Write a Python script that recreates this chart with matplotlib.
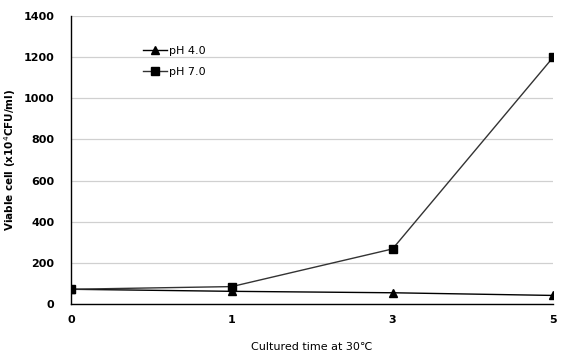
import matplotlib.pyplot as plt
import numpy as np

# cultured time (days), plotted as equally spaced categories
times = ['0', '1', '3', '5']
ph4 = [72, 62, 55, 42]
ph7 = [72, 85, 268, 1200]

fig = plt.figure(figsize=(5.64, 3.54), dpi=100)
ax = fig.add_axes([0.126, 0.141, 0.855, 0.814])

xpos = np.arange(len(times))
ax.plot(xpos, ph4, '-', color='black', lw=1.0, marker='^', ms=6, mfc='black', mec='black', label='pH 4.0')
ax.plot(xpos, ph7, '-', color='#333333', lw=1.0, marker='s', ms=5.5, mfc='black', mec='black', label='pH 7.0')

ax.set_xlim(0, len(times) - 1)
ax.set_ylim(0, 1400)
ax.set_yticks(np.arange(0, 1401, 200))
ax.set_xticks(xpos)
ax.set_xticklabels(times)
ax.yaxis.grid(True, color='#d0d0d0', lw=0.9)
ax.set_axisbelow(True)
for s in ['top', 'right']:
    ax.spines[s].set_visible(False)
ax.spines['left'].set_linewidth(1.0)
ax.spines['bottom'].set_linewidth(1.0)
ax.tick_params(axis='both', length=0, labelsize=8)
ax.tick_params(axis='y', pad=12)
ax.tick_params(axis='x', pad=8)
for lab in ax.get_xticklabels() + ax.get_yticklabels():
    lab.set_fontweight('bold')

ax.set_ylabel('Viable cell (x10$^4$CFU/ml)', fontsize=7.5, fontweight='bold')
ax.yaxis.set_label_coords(-0.11, 0.5)
ax.set_xlabel('Cultured time at 30\u2103', fontsize=8, labelpad=12)

ax.legend(loc='upper left', bbox_to_anchor=(0.14, 0.91), frameon=False,
          fontsize=8, handlelength=2.2, handletextpad=0.15, labelspacing=0.95,
          borderaxespad=0)

plt.savefig('out.png', dpi=100)
